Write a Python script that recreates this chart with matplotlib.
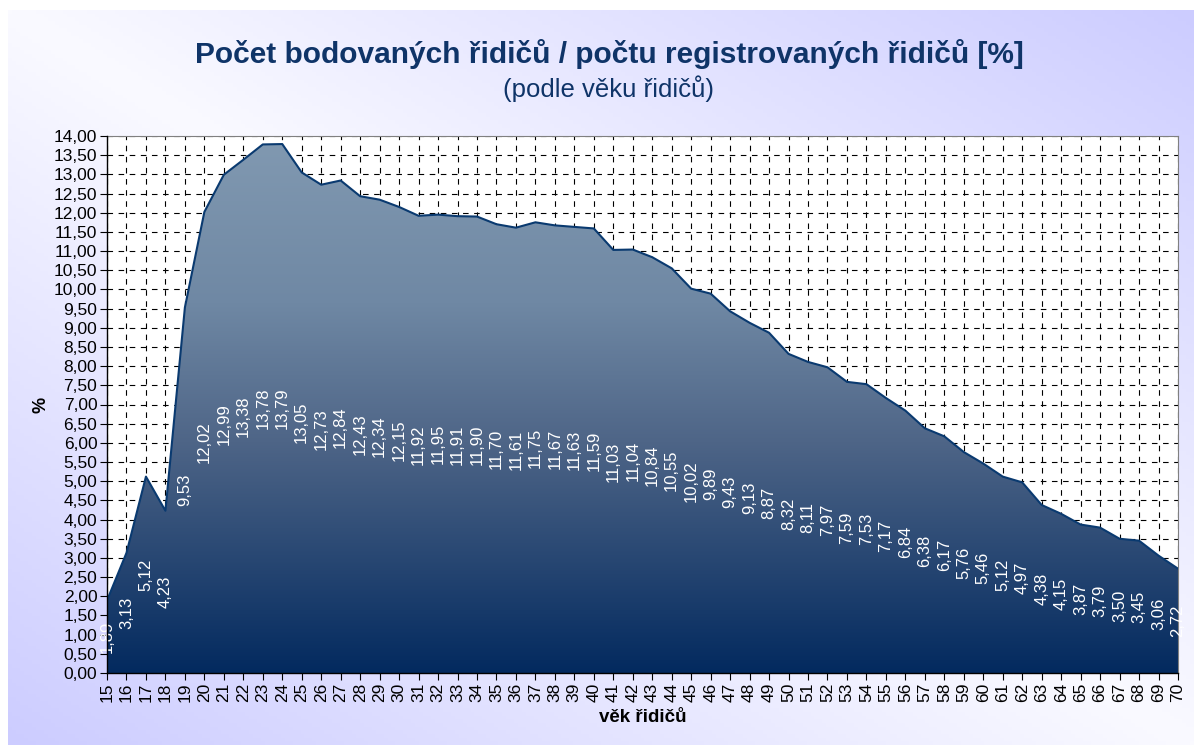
import numpy as np
import matplotlib.pyplot as plt
from matplotlib.colors import LinearSegmentedColormap

plt.rcParams['font.family'] = ['Liberation Sans', 'DejaVu Sans']

# data
vek = list(range(15, 71))
podil = [1.89, 3.13, 5.12, 4.23, 9.53, 12.02, 12.99, 13.38, 13.78, 13.79,
         13.05, 12.73, 12.84, 12.43, 12.34, 12.15, 11.92, 11.95, 11.91, 11.90,
         11.70, 11.61, 11.75, 11.67, 11.63, 11.59, 11.03, 11.04, 10.84, 10.55,
         10.02, 9.89, 9.43, 9.13, 8.87, 8.32, 8.11, 7.97, 7.59, 7.53,
         7.17, 6.84, 6.38, 6.17, 5.76, 5.46, 5.12, 4.97, 4.38, 4.15,
         3.87, 3.79, 3.50, 3.45, 3.06, 2.72]

titulek = 'Počet bodovaných řidičů / počtu registrovaných řidičů [%]'
podtitulek = '(podle věku řidičů)'
osa_x = 'věk řidičů'
osa_y = '%'

navy = '#0f3468'

fig = plt.figure(figsize=(11.94, 7.45), dpi=100)

# pozadi - diagonalni prechod
bg = fig.add_axes([8 / 1194, 0, 1 - 8 / 1194, 1 - 10 / 745], zorder=-10)
u = np.linspace(0, 1, 300)[None, :]
v = np.linspace(0, 1, 200)[:, None]
t = np.abs(u - v)
c1 = np.array([250, 250, 255]) / 255
c2 = np.array([204, 204, 255]) / 255
img = c1 * (1 - t[..., None]) + c2 * t[..., None]
bg.imshow(img, aspect='auto', extent=[0, 1, 0, 1], origin='upper')
bg.axis('off')

ax = fig.add_axes([107 / 1194, 1 - 673 / 745, (1178 - 107) / 1194, (673 - 136) / 745])
ax.set_facecolor('white')
ax.set_xlim(15, 70)
ax.set_ylim(0, 14)

# plocha s prechodem
poly = ax.fill_between(vek, podil, 0, color='none', zorder=2)
cmap = LinearSegmentedColormap.from_list('plocha', [
    (0.0, '#032a5f'), (0.43, '#4e6587'), (0.69, '#6f88a4'), (1.0, '#8199b1')])
grad = np.linspace(0, 1, 256)[:, None]
im = ax.imshow(grad, cmap=cmap, aspect='auto', extent=[15, 70, 0, 14],
               origin='lower', zorder=2)
im.set_clip_path(poly.get_paths()[0], transform=ax.transData)
ax.plot(vek, podil, color='#0a3a70', lw=1.5, zorder=3)

# popisky hodnot
for x, y in zip(vek, podil):
    ax.text(x, y / 2, f'{y:.2f}'.replace('.', ','), rotation=90, color='white',
            fontsize=12, ha='center', va='center', zorder=4, clip_on=False)

# mrizka
ax.set_xticks(vek)
ax.set_xticklabels([str(x) for x in vek], rotation=90, fontsize=12.5)
ax.set_yticks(np.arange(0, 14.01, 0.5))
ax.set_yticklabels([f'{y:.2f}'.replace('.', ',') for y in np.arange(0, 14.01, 0.5)],
                   fontsize=12.5)
ax.grid(True, color='black', lw=0.8, linestyle=(0, (5, 5)))
ax.set_axisbelow(True)
ax.tick_params(direction='out', length=5, width=0.8, pad=2)
for s in ['top', 'right']:
    ax.spines[s].set_color('#808080')
    ax.spines[s].set_linewidth(0.8)
for s in ['left', 'bottom']:
    ax.spines[s].set_linewidth(1.0)
    ax.spines[s].set_zorder(5)

ax.set_xlabel(osa_x, fontsize=13.5, fontweight='bold', labelpad=5)
ax.set_ylabel(osa_y, fontsize=13, fontweight='bold', labelpad=3)

fig.text(0.51, 0.928, titulek, ha='center', va='center', fontsize=21.5,
         fontweight='bold', color=navy)
fig.text(0.51, 0.881, podtitulek, ha='center', va='center', fontsize=18.5,
         color=navy)

fig.savefig('out.png', dpi=100)
